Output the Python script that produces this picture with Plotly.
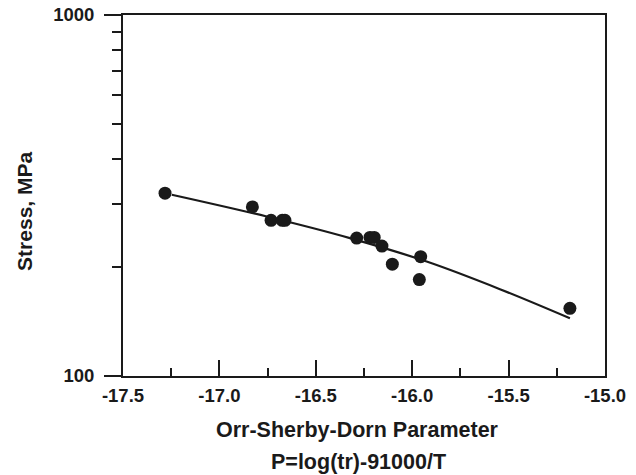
import plotly.graph_objects as go

# Rupture data: Orr-Sherby-Dorn parameter vs. stress
osd_param = [-17.282, -16.829, -16.732, -16.674, -16.660, -16.288, -16.219,
             -16.197, -16.157, -16.103, -15.956, -15.963, -15.182]
stress_mpa = [321, 294, 270, 270, 270, 241, 242, 242, 229, 204, 214, 185, 154]

# Fitted master curve
fit_param = [-17.247, -16.755, -16.323, -15.925, -15.545, -15.182]
fit_stress = [317.8, 276.6, 241.0, 207.5, 174.0, 144.5]

# Axis ticks
x_tick_vals = [-17.5, -17.0, -16.5, -16.0, -15.5, -15.0]
x_tick_text = ["-17.5", "-17.0", "-16.5", "-16.0", "-15.5", "-15.0"]
x_minor_vals = [-17.25, -16.75, -16.25, -15.75, -15.25]
y_tick_vals = [100, 1000]
y_tick_text = ["100", "1000"]
y_minor_vals = [200, 300, 400, 500, 600, 700, 800, 900]

INK = "#1a1a1a"
FONT = "Liberation Sans, Arial, sans-serif"

fig = go.Figure()
fig.add_trace(go.Scatter(
    x=fit_param, y=fit_stress, mode="lines",
    line=dict(color=INK, width=2.2, shape="spline"),
    hoverinfo="skip", showlegend=False,
))
fig.add_trace(go.Scatter(
    x=osd_param, y=stress_mpa, mode="markers",
    marker=dict(color=INK, size=13, line=dict(width=0)),
    showlegend=False,
))

fig.update_layout(
    width=636, height=475,
    margin=dict(l=123, r=31, t=15, b=99),
    paper_bgcolor="white", plot_bgcolor="white",
    font=dict(family=FONT, color=INK, size=18),
    xaxis=dict(
        range=[-17.5, -15.0], automargin=False,
        tickmode="array", tickvals=x_tick_vals, ticktext=x_tick_text,
        ticks="inside", ticklen=16, tickwidth=2, tickcolor=INK,
        minor=dict(tickvals=x_minor_vals, ticks="inside", ticklen=8,
                   tickwidth=2, tickcolor=INK),
        showline=True, linecolor=INK, linewidth=2, mirror=True,
        showgrid=False, zeroline=False,
        tickfont=dict(family=FONT, size=18.5, color=INK, weight="bold"),
        ticklabelstandoff=2,
    ),
    yaxis=dict(
        type="log", range=[2, 3], automargin=False,
        tickmode="array", tickvals=y_tick_vals, ticktext=y_tick_text,
        ticks="outside", ticklen=17, tickwidth=2, tickcolor=INK,
        minor=dict(tickvals=y_minor_vals, ticks="outside", ticklen=9,
                   tickwidth=2, tickcolor=INK),
        showline=True, linecolor=INK, linewidth=2, mirror=True,
        showgrid=False, zeroline=False,
        tickfont=dict(family=FONT, size=18.5, color=INK, weight="bold"),
        ticklabelstandoff=6,
    ),
    annotations=[
        dict(text="<b>Orr-Sherby-Dorn Parameter</b>", xref="paper", yref="paper",
             x=0.4865, y=-0.150, xanchor="center", yanchor="middle",
             showarrow=False, font=dict(family=FONT, size=21.5, color=INK)),
        dict(text="<b>P=log(tr)-91000/T</b>", xref="paper", yref="paper",
             x=0.488, y=-0.238, xanchor="center", yanchor="middle",
             showarrow=False, font=dict(family=FONT, size=21.5, color=INK)),
        dict(text="<b>Stress, MPa</b>", xref="paper", yref="paper",
             x=-0.203, y=0.455, xanchor="center", yanchor="middle",
             textangle=-90, showarrow=False,
             font=dict(family=FONT, size=21, color=INK)),
    ],
)

fig.write_html("out.html")
